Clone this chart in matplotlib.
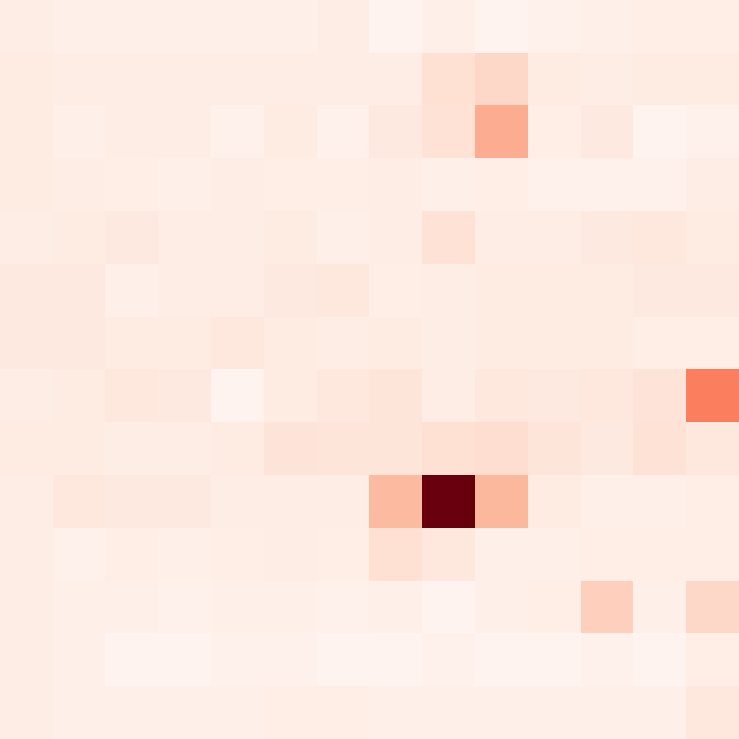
import matplotlib
matplotlib.use("Agg")
import matplotlib.pyplot as plt
import numpy as np

# 14x14 grid of cell intensities (0 = lightest, 1 = darkest)
row0 = [0.05, 0.03, 0.03, 0.03, 0.03, 0.03, 0.05, 0.01, 0.03, 0.01, 0.02, 0.03, 0.04, 0.04]
row1 = [0.06, 0.05, 0.05, 0.05, 0.05, 0.05, 0.05, 0.05, 0.12, 0.15, 0.06, 0.05, 0.06, 0.06]
row2 = [0.06, 0.03, 0.05, 0.05, 0.02, 0.06, 0.02, 0.07, 0.11, 0.29, 0.04, 0.07, 0.01, 0.02]
row3 = [0.06, 0.05, 0.04, 0.03, 0.05, 0.04, 0.04, 0.05, 0.03, 0.04, 0.02, 0.02, 0.02, 0.05]
row4 = [0.05, 0.06, 0.07, 0.05, 0.05, 0.06, 0.03, 0.05, 0.11, 0.05, 0.05, 0.07, 0.08, 0.06]
row5 = [0.07, 0.07, 0.03, 0.05, 0.05, 0.07, 0.08, 0.04, 0.05, 0.06, 0.06, 0.06, 0.07, 0.07]
row6 = [0.07, 0.07, 0.06, 0.06, 0.08, 0.06, 0.05, 0.06, 0.05, 0.06, 0.06, 0.06, 0.04, 0.04]
row7 = [0.05, 0.06, 0.08, 0.07, 0.01, 0.06, 0.08, 0.09, 0.05, 0.08, 0.07, 0.08, 0.10, 0.43]
row8 = [0.06, 0.06, 0.05, 0.05, 0.06, 0.10, 0.09, 0.09, 0.12, 0.13, 0.09, 0.07, 0.11, 0.08]
row9 = [0.05, 0.08, 0.07, 0.07, 0.05, 0.05, 0.05, 0.25, 1.00, 0.26, 0.06, 0.03, 0.03, 0.04]
row10 = [0.05, 0.02, 0.04, 0.03, 0.04, 0.05, 0.04, 0.12, 0.08, 0.03, 0.03, 0.04, 0.04, 0.04]
row11 = [0.05, 0.03, 0.03, 0.02, 0.03, 0.03, 0.02, 0.03, 0.01, 0.03, 0.04, 0.18, 0.03, 0.15]
row12 = [0.05, 0.03, 0.01, 0.01, 0.02, 0.02, 0.01, 0.01, 0.02, 0.01, 0.01, 0.02, 0.01, 0.04]
row13 = [0.05, 0.03, 0.03, 0.03, 0.03, 0.04, 0.04, 0.03, 0.03, 0.03, 0.03, 0.03, 0.03, 0.08]

grid = np.array([row0, row1, row2, row3, row4, row5, row6, row7,
                 row8, row9, row10, row11, row12, row13])

fig = plt.figure(figsize=(7.39, 7.39), dpi=100)
ax = fig.add_axes([0, 0, 1, 1])
ax.imshow(grid, cmap="Reds", vmin=0, vmax=1, aspect="auto", interpolation="nearest")
ax.axis("off")

fig.savefig("out.png", dpi=100)
